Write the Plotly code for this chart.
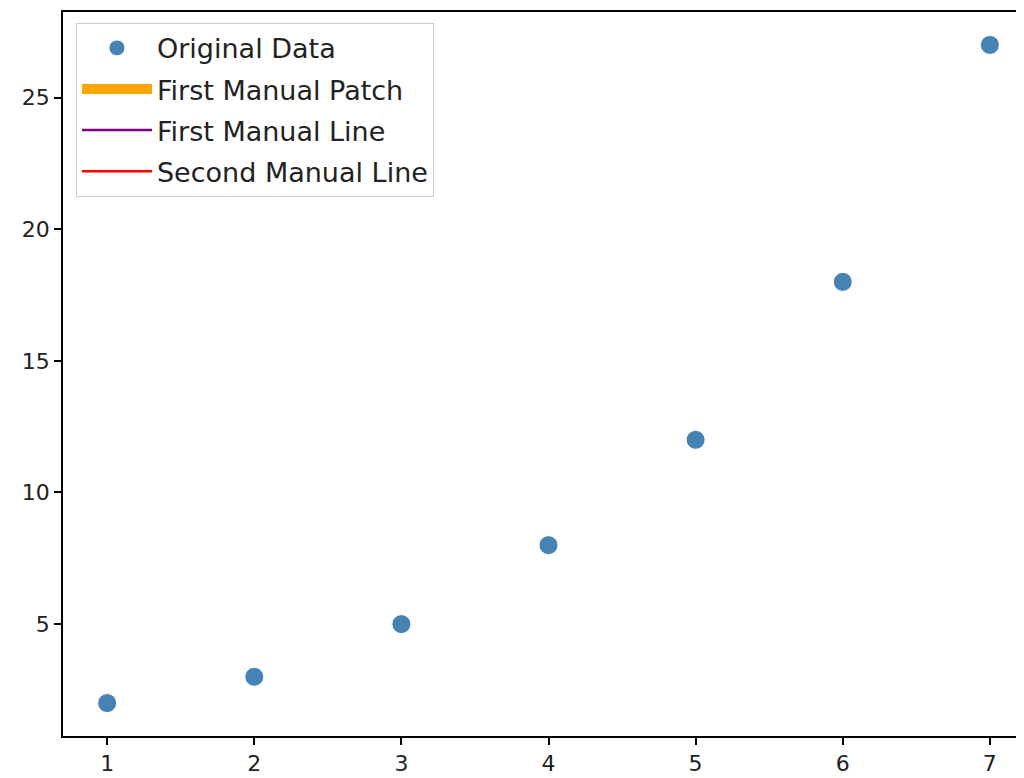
import plotly.graph_objects as go

x_vals = [1, 2, 3, 4, 5, 6, 7]
y_vals = [2, 3, 5, 8, 12, 18, 27]
x_ticks = [1, 2, 3, 4, 5, 6, 7]
y_ticks = [5, 10, 15, 20, 25]
legend_names = ["Original Data", "First Manual Patch", "First Manual Line", "Second Manual Line"]

fig = go.Figure()
fig.add_trace(go.Scatter(x=x_vals, y=y_vals, mode="markers", name=legend_names[0],
                         marker=dict(color="#4682B4", size=19, line=dict(color="white", width=1)),
                         legendgroup="a"))
fig.add_trace(go.Scatter(x=[None], y=[None], mode="lines", line=dict(color="orange", width=14),
                         name=legend_names[1], legendgroup="b"))
fig.add_trace(go.Scatter(x=[None], y=[None], mode="lines", line=dict(color="purple", width=2.5),
                         name=legend_names[2], legendgroup="c"))
fig.add_trace(go.Scatter(x=[None], y=[None], mode="lines", line=dict(color="red", width=2.5),
                         name=legend_names[3], legendgroup="d"))

fig.update_layout(
    width=1016, height=770,
    margin=dict(l=55, r=0, t=4, b=42),
    paper_bgcolor="white", plot_bgcolor="white",
    font=dict(family="DejaVu Sans", size=22, color="#222"),
    showlegend=True,
    legend=dict(x=0.0135, y=0.985, xanchor="left", yanchor="top",
                bgcolor="rgba(255,255,255,0.8)", bordercolor="#cccccc", borderwidth=1,
                font=dict(size=27, color="#222"), tracegroupgap=3, itemwidth=70),
    xaxis=dict(range=[0.7, 7.232], tickvals=x_ticks, showgrid=False, zeroline=False,
               showline=True, linecolor="black", linewidth=1.5, mirror=True,
               ticks="outside", ticklen=7, tickcolor="black", tickwidth=1.5),
    yaxis=dict(range=[0.75, 28.25], tickvals=y_ticks, showgrid=False, zeroline=False,
               showline=True, linecolor="black", linewidth=1.5,
               ticks="outside", ticklen=7, tickcolor="black", tickwidth=1.5),
)
fig.write_html("out.html")
